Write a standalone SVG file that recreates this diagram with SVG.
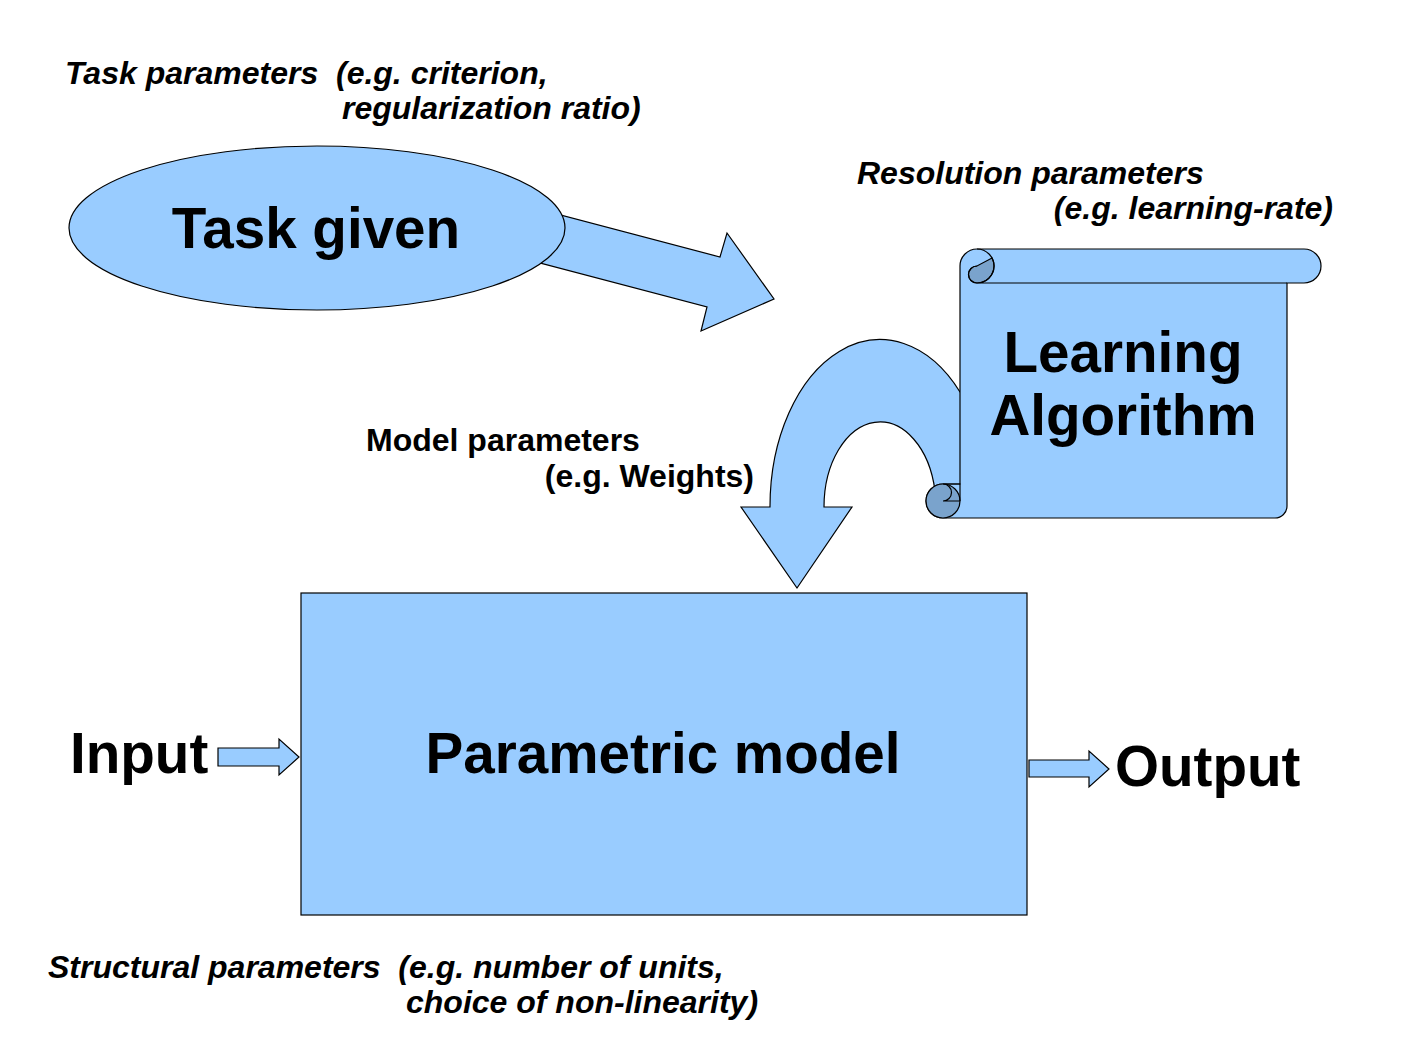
<svg xmlns="http://www.w3.org/2000/svg" width="1411" height="1058" viewBox="0 0 1411 1058">
<style>
.shape{fill:#99ccff;stroke:#000;stroke-width:1.2;stroke-linejoin:miter}
.dark{fill:#7aa3cc;stroke:#000;stroke-width:1.2}
.line{fill:none;stroke:#000;stroke-width:1.2}
text{font-family:"Liberation Sans",Arial,sans-serif;fill:#000;white-space:pre}
.big{font-size:56.6px;font-weight:bold}
.note{font-size:32px;font-weight:bold;font-style:italic}
.plain{font-size:32px;font-weight:bold}
</style>
<rect width="1411" height="1058" fill="#fff"/>
<g id="connectors">
<path id="task-arrow" class="shape" d="M500,199 L720,257 L727,233 L774,299 L701,331 L707,307 L487,249 Z"/>
<path id="model-arrow" class="shape" d="M770,507 A110,167 0 0 1 960,392 L972,392 L972,496 L935,491 A56,85 0 0 0 824,507 L852,507 L797,588 L741,507 Z"/>
<path id="input-arrow" class="shape" d="M218,748 L279,748 L279,739 L299,757 L279,775 L279,766 L218,766 Z"/>
<path id="output-arrow" class="shape" d="M1029,760 L1089,760 L1089,751 L1109,769 L1089,787 L1089,777 L1029,777 Z"/>
</g>
<g id="task-given">
<ellipse class="shape" cx="317" cy="228" rx="248" ry="82"/>
<text class="big" x="316" y="248" text-anchor="middle">Task given</text>
</g>
<g id="learning-algorithm">
<path class="shape" d="M977,249 L1304,249 A17,17 0 0 1 1304,283 L1287,283 L1287,506 A12,12 0 0 1 1275,518 L943,518 A17,17 0 0 1 943,484 L960,484 L960,266 A17,17 0 0 1 977,249 Z"/>
<path class="dark" d="M977,266 A8.5,8.5 0 0 0 977,283 A17,17 0 0 0 992,258 Z"/>
<path class="line" d="M977,249 A17,17 0 0 1 977,283 L1287,283"/>
<path class="line" d="M977,266 A8.5,8.5 0 0 0 977,283"/>
<circle class="dark" cx="943" cy="501" r="17"/>
<path class="line" d="M943,484 A8.5,8.5 0 0 1 943,501 L960,501 M943,484 L960,484 L960,501"/>
<text class="big" x="1123" y="372" text-anchor="middle">Learning</text>
<text class="big" x="1123" y="435" text-anchor="middle">Algorithm</text>
</g>
<g id="parametric-model">
<rect class="shape" x="301" y="593" width="726" height="322"/>
<text class="big" x="663" y="773" text-anchor="middle">Parametric model</text>
</g>
<g id="input">
<text class="big" x="70" y="773">Input</text>
</g>
<g id="output">
<text class="big" x="1115" y="786">Output</text>
</g>
<g id="task-parameters">
<text class="note" x="65" y="84">Task parameters  (e.g. criterion,</text>
<text class="note" x="342" y="119">regularization ratio)</text>
</g>
<g id="resolution-parameters">
<text class="note" x="857" y="184">Resolution parameters</text>
<text class="note" x="1333" y="219" text-anchor="end">(e.g. learning-rate)</text>
</g>
<g id="model-parameters">
<text class="plain" x="366" y="451">Model parameters</text>
<text class="plain" x="754" y="487" text-anchor="end">(e.g. Weights)</text>
</g>
<g id="structural-parameters">
<text class="note" x="48" y="978">Structural parameters  (e.g. number of units,</text>
<text class="note" x="406" y="1013">choice of non-linearity)</text>
</g>
</svg>
